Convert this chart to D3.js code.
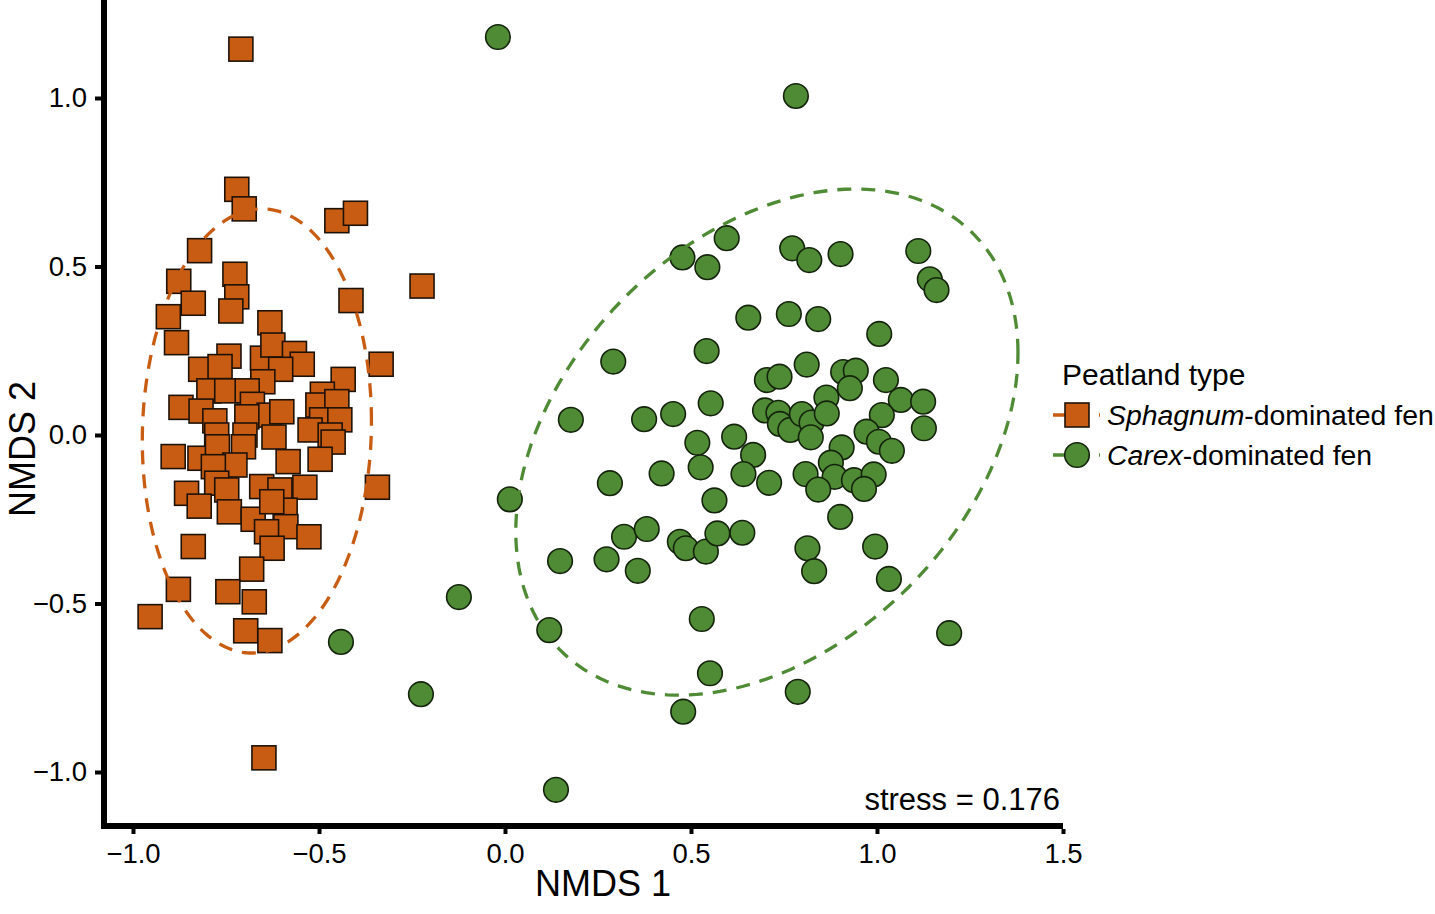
<!DOCTYPE html>
<html>
<head>
<meta charset="utf-8">
<script src="https://cdn.jsdelivr.net/npm/d3@7"></script>
<style>
  html, body { margin: 0; padding: 0; background: #fff; }
  svg text { font-family: "Liberation Sans", Arial, Helvetica, sans-serif; fill: #000; }
</style>
</head>
<body>
<svg id="chart" width="1435" height="914"></svg>
<script>
// ---------------- data ----------------
const sphagnumX = [-0.710,-0.721,-0.701,-0.452,-0.402,-0.821,-0.877,-0.838,-0.905,-0.726,
  -0.721,-0.737,-0.632,-0.414,-0.223,-0.883,-0.742,-0.818,-0.766,-0.652,
  -0.624,-0.566,-0.545,-0.603,-0.651,-0.796,-0.748,-0.693,-0.435,-0.333,
  -0.491,-0.503,-0.452,-0.871,-0.817,-0.780,-0.679,-0.634,-0.600,-0.694,
  -0.493,-0.524,-0.444,-0.470,-0.775,-0.699,-0.621,-0.892,-0.820,-0.773,
  -0.703,-0.462,-0.497,-0.583,-0.726,-0.784,-0.775,-0.856,-0.822,-0.748,
  -0.654,-0.605,-0.538,-0.343,-0.741,-0.677,-0.591,-0.627,-0.589,-0.641,
  -0.527,-0.838,-0.626,-0.681,-0.878,-0.954,-0.745,-0.674,-0.697,-0.632,
  -0.648];
const sphagnumY = [1.145,0.729,0.671,0.636,0.658,0.547,0.456,0.391,0.351,0.477,
  0.410,0.368,0.333,0.399,0.442,0.274,0.234,0.195,0.203,0.228,
  0.267,0.242,0.210,0.195,0.158,0.131,0.131,0.131,0.165,0.210,
  0.121,0.089,0.099,0.082,0.071,0.042,0.091,0.059,0.069,0.054,
  0.045,0.015,0.045,0.000,0.000,0.000,-0.006,-0.064,-0.069,-0.035,
  -0.035,-0.021,-0.072,-0.079,-0.089,-0.094,-0.143,-0.173,-0.211,-0.163,
  -0.153,-0.163,-0.155,-0.155,-0.228,-0.250,-0.223,-0.198,-0.272,-0.287,
  -0.302,-0.331,-0.336,-0.398,-0.458,-0.539,-0.465,-0.495,-0.581,-0.610,
  -0.958];

const carexX = [-0.019,0.782,0.596,0.477,0.544,0.772,0.818,0.902,1.111,1.142,
  1.160,0.654,0.763,0.842,1.006,0.291,0.542,0.811,0.704,0.738,
  0.909,0.943,0.927,1.024,0.177,0.374,0.452,0.553,0.699,0.735,
  0.739,0.767,0.798,0.824,0.822,0.864,0.865,1.064,1.124,1.013,
  1.126,0.972,1.005,1.040,0.517,0.526,0.616,0.667,0.641,0.710,
  0.905,0.876,0.886,0.808,0.842,0.938,0.991,0.965,0.421,0.282,
  0.563,0.013,0.901,0.320,0.381,0.148,0.273,0.357,0.470,0.486,
  0.540,0.571,0.638,0.813,0.831,0.995,1.032,0.119,0.529,0.551,
  0.479,0.787,1.194,-0.441,-0.124,-0.226,0.137];
const carexY = [1.181,1.006,0.584,0.527,0.498,0.554,0.519,0.537,0.546,0.462,
  0.430,0.348,0.359,0.344,0.300,0.218,0.249,0.209,0.163,0.173,
  0.187,0.191,0.139,0.163,0.045,0.047,0.062,0.094,0.073,0.066,
  0.033,0.015,0.062,0.037,-0.007,0.111,0.064,0.104,0.099,0.059,
  0.020,0.010,-0.020,-0.047,-0.023,-0.096,-0.005,-0.059,-0.116,-0.142,
  -0.037,-0.082,-0.124,-0.116,-0.162,-0.134,-0.117,-0.160,-0.114,-0.143,
  -0.194,-0.191,-0.243,-0.302,-0.279,-0.374,-0.369,-0.403,-0.317,-0.336,
  -0.346,-0.292,-0.290,-0.336,-0.404,-0.331,-0.427,-0.579,-0.546,-0.707,
  -0.821,-0.762,-0.588,-0.614,-0.481,-0.769,-1.053];

// ellipse parameters: [centerX, centerY, halfWidthX, halfHeightY, correlation]
const sphagnumEllipse = [-0.667, 0.012, 0.308, 0.659, 0.044];
const carexEllipse    = [0.704, -0.021, 0.675, 0.751, 0.353];

const xTicks = [-1.0, -0.5, 0.0, 0.5, 1.0, 1.5];
const yTicks = [-1.0, -0.5, 0.0, 0.5, 1.0];
const groupNames = ["Sphagnum", "Carex"];
const groupSuffix = ["-dominated fen", "-dominated fen"];
const stressValue = 0.176;

// ---------------- drawing ----------------
const orange = "#c95c13";
const green = "#4f8a35";
const svg = d3.select("#chart");

const x = d3.scaleLinear().domain([-1, 1.5]).range([133, 1063]);
const y = d3.scaleLinear().domain([-1, 1]).range([772, 98]);

const fmt = d => (d < 0 ? "\u2212" : "") + Math.abs(d).toFixed(1);

// points
const sq = 24;
const sData = sphagnumX.map((v, i) => ({x: v, y: sphagnumY[i]}));
const cData = carexX.map((v, i) => ({x: v, y: carexY[i]}));

svg.append("g").selectAll("rect").data(sData).join("rect")
  .attr("x", d => x(d.x) - sq / 2).attr("y", d => y(d.y) - sq / 2)
  .attr("width", sq).attr("height", sq)
  .attr("fill", orange).attr("stroke", "#1e1208").attr("stroke-width", 1.6);

svg.append("g").selectAll("circle").data(cData).join("circle")
  .attr("cx", d => x(d.x)).attr("cy", d => y(d.y)).attr("r", 12.3)
  .attr("fill", green).attr("stroke", "#14240c").attr("stroke-width", 1.6);

// ellipses
function ellipsePts(p) {
  const [cx, cy, hw, hh, r] = p;
  const pts = [];
  for (let i = 0; i <= 200; i++) {
    const t = 2 * Math.PI * i / 200;
    pts.push([cx + hw * Math.cos(t), cy + hh * (r * Math.cos(t) + Math.sqrt(1 - r * r) * Math.sin(t))]);
  }
  return pts;
}
const line = d3.line().x(d => x(d[0])).y(d => y(d[1]));
svg.append("path").attr("d", line(ellipsePts(sphagnumEllipse)))
  .attr("fill", "none").attr("stroke", orange).attr("stroke-width", 3.3)
  .attr("stroke-dasharray", "14,10");
svg.append("path").attr("d", line(ellipsePts(carexEllipse)))
  .attr("fill", "none").attr("stroke", green).attr("stroke-width", 3.3)
  .attr("stroke-dasharray", "14,10");

// axes
const yAxis = svg.append("g").attr("transform", "translate(101,0)")
  .call(d3.axisLeft(y).tickValues(yTicks).tickFormat(fmt).tickSize(6).tickPadding(8));
const xAxis = svg.append("g").attr("transform", "translate(0,829)")
  .call(d3.axisBottom(x).tickValues(xTicks).tickFormat(fmt).tickSize(5).tickPadding(9));
[xAxis, yAxis].forEach(a => {
  a.select(".domain").remove();
  a.selectAll(".tick line").attr("stroke", "#000").attr("stroke-width", 4);
  a.selectAll(".tick text").attr("font-size", 27.5).attr("fill", "#000")
    .style("font-family", "'Liberation Sans', Arial, sans-serif");
});

// axis lines (thick)
svg.append("line").attr("x1", 104).attr("x2", 104).attr("y1", 0).attr("y2", 829)
  .attr("stroke", "#000").attr("stroke-width", 6);
svg.append("line").attr("x1", 101).attr("x2", 1063).attr("y1", 826).attr("y2", 826)
  .attr("stroke", "#000").attr("stroke-width", 6);

// titles
svg.append("text").attr("x", 603).attr("y", 896).attr("text-anchor", "middle")
  .attr("font-size", 36).text("NMDS 1");
svg.append("text").attr("transform", "translate(35,449) rotate(-90)")
  .attr("text-anchor", "middle").attr("font-size", 36).text("NMDS 2");

svg.append("text").attr("x", 1060).attr("y", 810).attr("text-anchor", "end")
  .attr("font-size", 31).text("stress = " + stressValue.toFixed(3));

// legend
const lg = svg.append("g");
lg.append("text").attr("x", 1062).attr("y", 385).attr("font-size", 30).text("Peatland type");
const colors = [orange, green];
groupNames.forEach((g, i) => {
  const cy = 415 + i * 40;
  lg.append("line").attr("x1", 1053).attr("x2", 1100).attr("y1", cy).attr("y2", cy)
    .attr("stroke", colors[i]).attr("stroke-width", 3.3).attr("stroke-dasharray", "13,10");
  if (i === 0) {
    lg.append("rect").attr("x", 1077 - sq / 2).attr("y", cy - sq / 2).attr("width", sq).attr("height", sq)
      .attr("fill", orange).attr("stroke", "#1e1208").attr("stroke-width", 1.6);
  } else {
    lg.append("circle").attr("cx", 1077).attr("cy", cy).attr("r", 12.3)
      .attr("fill", green).attr("stroke", "#14240c").attr("stroke-width", 1.6);
  }
  const t = lg.append("text").attr("x", 1107).attr("y", cy + 10).attr("font-size", 28.4);
  t.append("tspan").attr("font-style", "italic").text(g);
  t.append("tspan").text(groupSuffix[i]);
});
</script>
</body>
</html>
